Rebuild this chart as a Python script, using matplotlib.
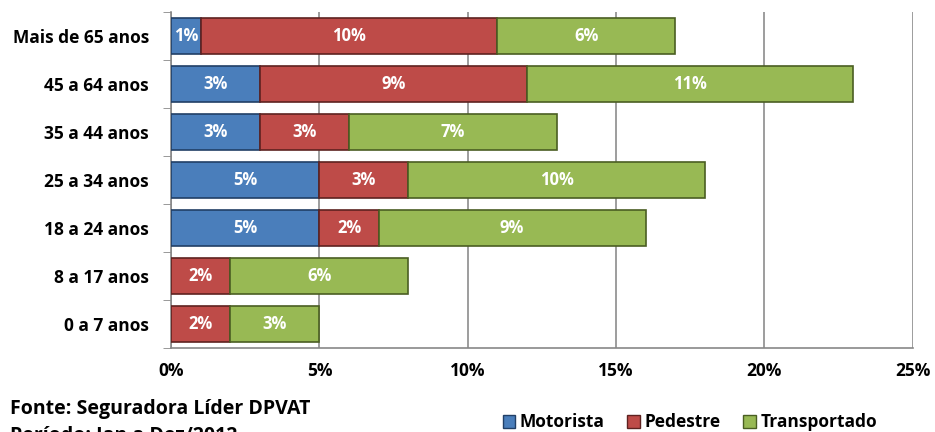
import matplotlib
matplotlib.use("Agg")
import matplotlib.pyplot as plt
from matplotlib.patches import Patch

plt.rcParams["font.family"] = ["Open Sans", "DejaVu Sans"]
plt.rcParams["font.weight"] = "bold"

# ── data ──────────────────────────────────────────────────────────────────────
faixas = ["Mais de 65 anos", "45 a 64 anos", "35 a 44 anos", "25 a 34 anos",
          "18 a 24 anos", "8 a 17 anos", "0 a 7 anos"]
motorista = [1, 3, 3, 5, 5, 0, 0]
pedestre = [10, 9, 3, 3, 2, 2, 2]
transportado = [6, 11, 7, 10, 9, 6, 3]
xticks = [0, 5, 10, 15, 20, 25]

series = [("Motorista", motorista, "#4A7EBB", "#213F66"),
          ("Pedestre", pedestre, "#BE4B48", "#5E2220"),
          ("Transportado", transportado, "#98B954", "#4A5E22")]

fig = plt.figure(figsize=(9.35, 4.32), dpi=100)
ax = fig.add_axes([0.183, 0.194, 0.793, 0.778])

y = list(range(len(faixas)))
left = [0] * len(faixas)
for name, vals, fc, ec in series:
    bars = ax.barh(y, vals, left=left, height=0.75, color=fc,
                   edgecolor=ec, linewidth=1.2, zorder=3)
    for b, v in zip(bars, vals):
        if v > 0:
            ax.text(b.get_x() + b.get_width() / 2, b.get_y() + b.get_height() / 2,
                    f"{v}%", ha="center", va="center", color="white",
                    fontsize=12, fontweight="bold", zorder=4)
    left = [l + v for l, v in zip(left, vals)]

ax.set_xlim(0, 25)
ax.set_ylim(len(faixas) - 0.5, -0.5)
ax.set_xticks(xticks)
ax.set_xticklabels([f"{t}%" for t in xticks], fontsize=12.5, fontweight="bold")
ax.set_yticks(y)
ax.set_yticklabels(faixas, fontsize=12.5, fontweight="bold")
ax.set_yticks([i - 0.5 for i in range(len(faixas) + 1)], minor=True)
ax.tick_params(axis="y", which="major", length=0, pad=16)
ax.tick_params(axis="y", which="minor", length=6, color="#888888")
ax.tick_params(axis="x", length=0, pad=10)
ax.xaxis.grid(True, color="#8C8C8C", linewidth=1.2, zorder=0)

for s in ["top", "right"]:
    ax.spines[s].set_visible(False)
ax.spines["left"].set_color("#888888")
ax.spines["bottom"].set_color("#888888")
ax.spines["left"].set_linewidth(1.2)
ax.spines["bottom"].set_linewidth(1.2)

fig.text(0.011, 0.053, "Fonte: Seguradora Líder DPVAT", fontsize=14,
         fontweight="bold", va="center")
fig.text(0.011, -0.008, "Período: Jan a Dez/2012", fontsize=14,
         fontweight="bold", va="center")

handles = [Patch(facecolor=fc, edgecolor=ec, label=name) for name, _, fc, ec in series]
fig.legend(handles=handles, loc="center", bbox_to_anchor=(0.738, 0.022), ncol=3,
           frameon=False, fontsize=12.5, handlelength=0.7, handleheight=0.8,
           handletextpad=0.3, columnspacing=1.3)

fig.savefig("out.png", dpi=100)
